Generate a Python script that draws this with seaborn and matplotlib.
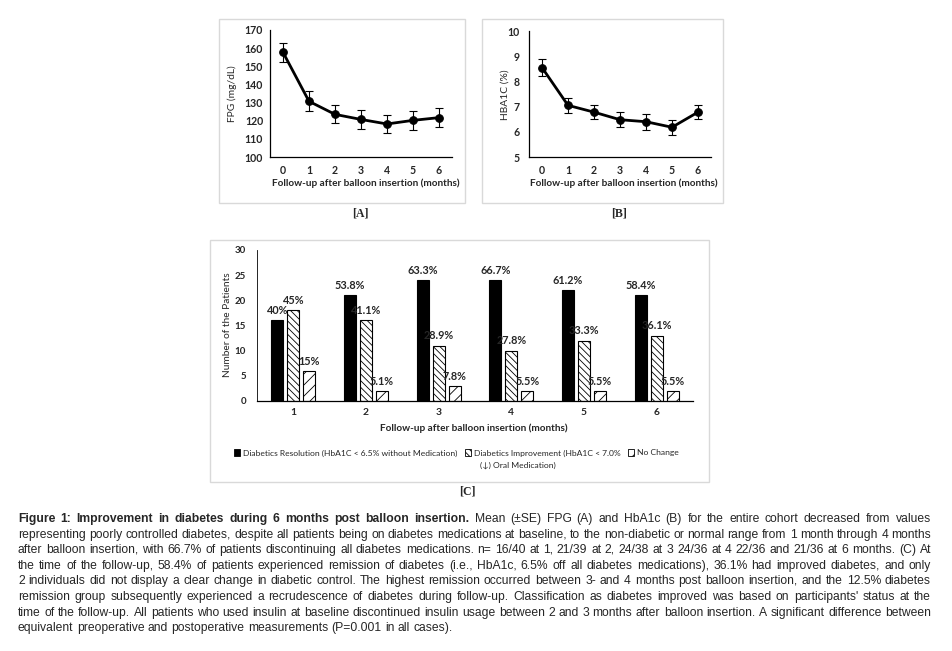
import matplotlib
matplotlib.use("Agg")
import matplotlib.pyplot as plt
import seaborn as sns
import numpy as np
import pandas as pd
from matplotlib.patches import Rectangle, Patch
from matplotlib.transforms import IdentityTransform

# ---------------- data ----------------
months = [0, 1, 2, 3, 4, 5, 6]
fpg_mean = [157.7, 130.7, 123.5, 120.7, 118.2, 120.2, 121.7]
fpg_se = [5.3, 5.5, 5.0, 5.2, 5.2, 5.2, 5.2]
hba1c_mean = [8.55, 7.05, 6.78, 6.48, 6.40, 6.18, 6.78]
hba1c_se = [0.32, 0.29, 0.28, 0.29, 0.31, 0.30, 0.28]

followup = ["1", "2", "3", "4", "5", "6"]
resolution = [16, 21, 24, 24, 22, 21]
improvement = [18, 16, 11, 10, 12, 13]
no_change = [6, 2, 3, 2, 2, 2]
resolution_pct = ["40%", "53.8%", "63.3%", "66.7%", "61.2%", "58.4%"]
improvement_pct = ["45%", "41.1%", "28.9%", "27.8%", "33.3%", "36.1%"]
no_change_pct = ["15%", "5.1%", "7.8%", "5.5%", "5.5%", "5.5%"]

group_names = ["Diabetics Resolution (HbA1C < 6.5% without Medication)",
               "Diabetics Improvement (HbA1C < 7.0%",
               "No Change"]
group_name_cont = "(\u2193) Oral Medication)"

caption_lines = [
    "Figure 1: Improvement in diabetes during 6 months post balloon insertion. Mean (\u00b1SE) FPG (A) and HbA1c (B) for the entire cohort decreased from values",
    "representing poorly controlled diabetes, despite all patients being on diabetes medications at baseline, to the non-diabetic or normal range from 1 month through 4 months",
    "after balloon insertion, with 66.7% of patients discontinuing all diabetes medications. n= 16/40 at 1, 21/39 at 2, 24/38 at 3 24/36 at 4 22/36 and 21/36 at 6 months. (C) At",
    "the time of the follow-up, 58.4% of patients experienced remission of diabetes (i.e., HbA1c, 6.5% off all diabetes medications), 36.1% had improved diabetes, and only",
    "2 individuals did not display a clear change in diabetic control. The highest remission occurred between 3- and 4 months post balloon insertion, and the 12.5% diabetes",
    "remission group subsequently experienced a recrudescence of diabetes during follow-up. Classification as diabetes improved was based on participants' status at the",
    "time of the follow-up. All patients who used insulin at baseline discontinued insulin usage between 2 and 3 months after balloon insertion. A significant difference between",
    "equivalent preoperative and postoperative measurements (P=0.001 in all cases).",
]
n_bold_words = 11

# ---------------- style ----------------
sns.set_theme(style="white")
plt.rcParams["font.family"] = ["Lato", "DejaVu Sans"]
plt.rcParams["hatch.linewidth"] = 0.6

W, H = 952, 651
fig = plt.figure(figsize=(W / 100, H / 100), dpi=100)
fig.patch.set_facecolor("white")


def box(x0, y0, x1, y1):
    return [x0 / W, 1 - y1 / H, (x1 - x0) / W, (y1 - y0) / H]


def fx(x):
    return x / W


def fy(y):
    return 1 - y / H


# panel frames
for (x0, y0, x1, y1) in [(219, 19, 465, 203), (482, 19, 723, 203), (210, 240, 709, 482)]:
    fig.patches.append(Rectangle((fx(x0), fy(y1)), (x1 - x0) / W, (y1 - y0) / H,
                                 transform=fig.transFigure, fill=False,
                                 edgecolor="#d9d9d9", linewidth=1.0, zorder=0))

tick_font = dict(fontsize=7.6, fontweight="bold")
xlabel_text = "Follow-up after balloon insertion (months)"


def line_panel(rect, y, err, ylim, yticks, ylabel, ylabel_xy, xlabel_xy, ypad):
    ax = fig.add_axes(rect)
    sns.lineplot(x=months, y=y, ax=ax, color="black", linewidth=2.0,
                 marker="o", markersize=5.5, markeredgecolor="black")
    ax.errorbar(months, y, yerr=err, fmt="none", ecolor="black",
                elinewidth=0.8, capsize=2.8, capthick=0.8)
    ax.set_xlim(-0.5, 6.5)
    ax.set_ylim(*ylim)
    ax.set_yticks(yticks)
    ax.set_xticks(months)
    ax.set_xticklabels([str(m) for m in months], **tick_font)
    ax.set_yticklabels([str(t) for t in yticks], **tick_font)
    ax.tick_params(axis="both", length=0)
    ax.tick_params(axis="y", pad=ypad)
    ax.tick_params(axis="x", pad=5.5)
    for s in ["top", "right"]:
        ax.spines[s].set_visible(False)
    for s in ["left", "bottom"]:
        ax.spines[s].set_color("black")
        ax.spines[s].set_linewidth(0.9)
    ax.set_facecolor("white")
    fig.text(fx(ylabel_xy[0]), fy(ylabel_xy[1]), ylabel, rotation=90,
             ha="center", va="center", fontsize=7.4)
    fig.text(fx(xlabel_xy[0]), fy(xlabel_xy[1]), xlabel_text,
             ha="center", va="center", fontsize=7.2, fontweight="bold")
    return ax


line_panel(box(270, 30, 452, 157), fpg_mean, fpg_se, (100, 170),
           list(range(100, 171, 10)), "FPG (mg/dL)", (232, 94), (366, 183), 5)
line_panel(box(529, 31, 711, 157), hba1c_mean, hba1c_se, (5, 10),
           list(range(5, 11)), "HBA1C (%)", (505, 95), (624, 183), 7)

# ---------------- panel C ----------------
axc = fig.add_axes(box(257, 250, 693, 401))
df = pd.DataFrame({
    "month": followup * 3,
    "count": resolution + improvement + no_change,
    "group": [group_names[0]] * 6 + [group_names[1]] * 6 + [group_names[2]] * 6,
})
sns.barplot(data=df, x="month", y="count", hue="group", hue_order=group_names,
            order=followup, palette=["black", "white", "white"],
            width=0.66, gap=0.25, edgecolor="black", linewidth=0.8,
            legend=False, ax=axc)
hatches = [None, "\\\\\\\\\\", "///"]
pcts = [resolution_pct, improvement_pct, no_change_pct]
for cont, hatch, lab in zip(axc.containers, hatches, pcts):
    for bar in cont:
        if hatch:
            bar.set_hatch(hatch)
    axc.bar_label(cont, labels=lab, padding=3, fontsize=7.8, fontweight="bold")
axc.set_xlim(-0.5, 5.5)
axc.set_ylim(0, 30)
axc.set_yticks(range(0, 31, 5))
axc.set_yticklabels([str(t) for t in range(0, 31, 5)], fontsize=7, fontweight="bold")
axc.set_xticks(range(6))
axc.set_xticklabels(followup, fontsize=7.4, fontweight="bold")
axc.tick_params(axis="both", length=0)
axc.tick_params(axis="y", pad=8)
axc.tick_params(axis="x", pad=5)
axc.set_xlabel("")
axc.set_ylabel("")
for s in ["top", "right"]:
    axc.spines[s].set_visible(False)
axc.spines["left"].set_color("black")
axc.spines["left"].set_linewidth(0.6)
axc.spines["bottom"].set_color("black")
axc.spines["bottom"].set_linewidth(0.9)
fig.text(fx(228), fy(325), "Number of the Patients", rotation=90,
         ha="center", va="center", fontsize=7.3)
fig.text(fx(474), fy(428), xlabel_text,
         ha="center", va="center", fontsize=7.2, fontweight="bold")

handles = [Patch(facecolor="black", edgecolor="black", linewidth=0.6),
           Patch(facecolor="white", edgecolor="black", hatch=hatches[1], linewidth=0.6),
           Patch(facecolor="white", edgecolor="black", hatch=hatches[2], linewidth=0.6)]
fig.legend(handles, group_names, ncol=3, loc="center left",
           bbox_to_anchor=(fx(234), fy(453)), frameon=False,
           handlelength=0.75, handleheight=0.75, handletextpad=0.3,
           columnspacing=0.9, borderaxespad=0, borderpad=0,
           prop={"family": ["Lato", "DejaVu Sans"], "size": 6.1})
fig.text(fx(480), fy(465), group_name_cont, ha="left", va="center",
         fontsize=6.1, family=["Lato", "DejaVu Sans"])

# panel labels
for lab, x, y in [("[A]", 360, 213), ("[B]", 619, 213), ("[C]", 467, 492)]:
    fig.text(fx(x), fy(y), lab, ha="center", va="center", fontsize=8.5,
             fontweight="bold", family="Liberation Serif")

# ---------------- caption (justified, one text per word) ----------------
PIX = IdentityTransform()
renderer = fig.canvas.get_renderer()
cap_family = "Liberation Sans"
left_px, right_px = 18, 931
baselines = [round(522 + 15.6 * i) for i in range(len(caption_lines))]
FRAC = 0.1  # keep baselines off exact half-pixel rounding boundaries

probe = fig.text(0, 0, caption_lines[-1], fontsize=10, family=cap_family)
w10 = probe.get_window_extent(renderer).width
probe.remove()
cap_fs = 10 * 435 / w10
PREFIX = "\u00c5|gj "


def baseline_shifts(words, weights):
    """Pixel offset of each word's rendered baseline vs. a common reference."""
    rowh = 24
    Ht = 2 * len(words) * rowh + 12
    tf = plt.figure(figsize=(9.6, Ht / 100), dpi=100)
    tr = tf.canvas.get_renderer()
    ch = tr.height
    x0 = 5
    info = []
    for i, (w, wt) in enumerate(zip(words, weights)):
        ba = 2 * i * rowh + 18
        bp = (2 * i + 1) * rowh + 18
        kw = dict(transform=PIX, fontsize=cap_fs, family=cap_family,
                  fontweight=wt, va="baseline", ha="left")
        ta = tf.text(x0, ch - ba - FRAC, w, **kw)
        tp = tf.text(x0, ch - bp - FRAC, PREFIX + w, **kw)
        ww = ta.get_window_extent(tr).width
        wp = tp.get_window_extent(tr).width
        info.append((ba, bp, ww, wp - ww))
    tf.canvas.draw()
    a = 255.0 - np.asarray(tf.canvas.buffer_rgba())[:, :, 0].astype(float)
    plt.close(tf)
    shifts = []
    for ba, bp, ww, start in info:
        ncol = max(int(ww) - 2, 1)
        c0 = x0 + 1
        s0 = x0 + int(round(start)) + 1
        pa = a[ba - 16: ba + 8, c0: c0 + ncol].sum(axis=1)
        pp = a[bp - 16: bp + 8, s0: s0 + ncol].sum(axis=1)
        best, best_s = -1.0, 0
        for s in range(-3, 4):
            sc = float(np.dot(pp, np.roll(pa, -s)))
            if sc > best + 1e-6:
                best, best_s = sc, s
        shifts.append(best_s)
    return shifts


for li, (line, yb) in enumerate(zip(caption_lines, baselines)):
    words = line.split(" ")
    weights = ["bold" if (li == 0 and wi < n_bold_words) else "normal"
               for wi in range(len(words))]
    shifts = baseline_shifts(words, weights)
    texts = []
    widths = []
    for w, wt, s in zip(words, weights, shifts):
        t = fig.text(0, H - (yb + FRAC - s), w, transform=PIX, fontsize=cap_fs,
                     family=cap_family, fontweight=wt, va="baseline", ha="left")
        texts.append(t)
        widths.append(t.get_window_extent(renderer).width)
    if li < len(caption_lines) - 1:
        gap = (right_px - left_px - sum(widths)) / (len(words) - 1)
    else:
        sp = fig.text(0, 0, "a a", fontsize=cap_fs, family=cap_family)
        sa = fig.text(0, 0, "aa", fontsize=cap_fs, family=cap_family)
        gap = sp.get_window_extent(renderer).width - sa.get_window_extent(renderer).width
        sp.remove()
        sa.remove()
    x = left_px
    for t, w in zip(texts, widths):
        t.set_x(x)
        x += w + gap

fig.savefig("out.png", dpi=100, facecolor="white")
